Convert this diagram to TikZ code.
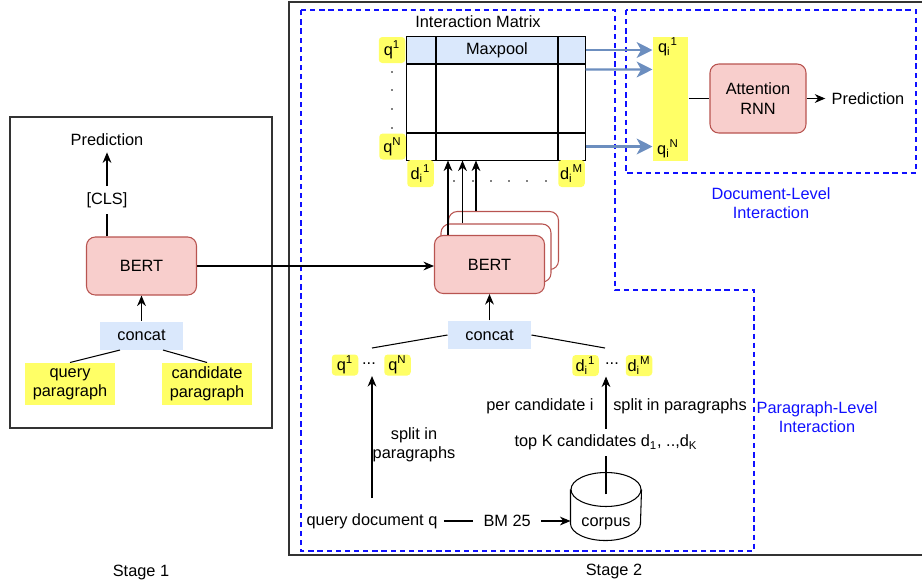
\documentclass[tikz,border=0pt]{standalone}
\usepackage{fontspec}
\setmainfont{Liberation Sans}
\usepackage{xcolor}
\usetikzlibrary{calc}
\usetikzlibrary{positioning, fit, arrows.meta}

\definecolor{bertfill}{HTML}{F8CECC}
\definecolor{bertline}{HTML}{B85450}
\definecolor{catfill}{HTML}{DAE8FC}
\definecolor{tagfill}{HTML}{FFFF66}
\definecolor{arrblue}{HTML}{6C8EBF}
\definecolor{zoneblue}{HTML}{1010FF}

\begin{document}
\begin{tikzpicture}[x=0.02cm, y=-0.02cm, semithick, font=\fontsize{9.3}{11}\selectfont,
    >={Stealth[length=6pt,width=5pt]},
    bertbox/.style = {draw=bertline, fill=bertfill, rounded corners=5pt, minimum width=2.2cm, minimum height=1.16cm},
    catbox/.style = {fill=catfill, minimum width=1.66cm, minimum height=0.56cm},
    tagbox/.style = {fill=tagfill, rounded corners=2pt, inner sep=0pt, minimum width=0.53cm, minimum height=0.42cm},
    parabox/.style = {fill=tagfill, align=center, inner sep=0pt, minimum width=1.8cm, minimum height=0.84cm},
    zone/.style = {draw=zoneblue, dash pattern=on 3pt off 2.2pt, line width=0.9pt},
    zonetxt/.style = {text=zoneblue, align=center},
    bluearrow/.style = {draw=arrblue, line width=1.2pt, -{Stealth[length=9pt,width=9pt,inset=2.5pt]}}]
    \useasboundingbox (0,0) rectangle (922,586);

    % Frames
    \draw[black!80, line width=0.7pt] (10,117) rectangle (272,428);
    \draw[black!80, line width=0.8pt] (289,2) rectangle (940,555);
    \draw[zone] (301,10) -- (615,10) -- (615,290) -- (754,290) -- (754,551) -- (301,551) -- cycle;
    \draw[zone] (626,10) rectangle (916,173);

    % Nodes - stage 1
    \node[bertbox] (bert1) at (141.5,266) {BERT};
    \node[catbox] (cat1) at (141.5,335.5) {concat};
    \node[parabox] (qpara) at (70,384) {query\\paragraph};
    \node[parabox] (cpara) at (207,384) {candidate\\paragraph};
    \node (cls) at (107,200) {[CLS]};
    \node (pred1) at (107,140) {Prediction};
    \node (stage1) at (141,572) {Stage 1};

    % Lines - stage 1
    \draw[->] (cat1) -- (bert1);
    \draw (cls |- bert1.north) -- (cls);
    \draw[->] (cls) -- (pred1);
    \draw ([xshift=-0.43cm]cat1.south) -- (qpara.north);
    \draw ([xshift=0.43cm]cat1.south) -- (cpara.north);

    % Interaction matrix
    \node[minimum width=3.56cm, minimum height=2.46cm, inner sep=0pt] (imat) at (496,98.5) {};
    \fill[catfill] (imat.north west) rectangle ($(imat.north east)+(0,27)$);
    \draw (436,37) -- (436,160) (558,37) -- (558,160) (407,64) -- (585,64) (407,133) -- (585,133);
    \draw (imat.north west) rectangle (imat.south east);
    \node (maxpool) at (497,50.5) {Maxpool};
    \node (imtitle) at (478,22) {Interaction Matrix};
    \node[tagbox, minimum height=0.52cm] (q1m) at (392,50) {q\textsuperscript{1}};
    \node[tagbox, minimum height=0.52cm] (qNm) at (392.5,146.5) {q\textsuperscript{N}};
    \node[tagbox, minimum height=0.54cm] (d1m) at (420.5,173.5) {d\textsubscript{i}\textsuperscript{1}};
    \node[tagbox, minimum height=0.54cm] (dMm) at (571.5,173.5) {d\textsubscript{i}\textsuperscript{M}};
    \foreach \y in {72,90,109,128} \fill (392,\y) circle (0.5pt);
    \foreach \x in {454,473,491,509,527,546} \fill (\x,181) circle (0.5pt);

    % Document level
    \node[fill=tagfill, minimum width=0.7cm, minimum height=2.48cm, inner sep=0pt] (qbar) at (670.5,99) {};
    \node (qi1) at (668,47) {q\textsubscript{i}\textsuperscript{1}};
    \node (qiN) at (668,149) {q\textsubscript{i}\textsuperscript{N}};
    \node[bertbox, align=center, minimum width=1.92cm, minimum height=1.38cm] (attn) at (758,98.5) {Attention\\RNN};
    \node (pred2) at (868,98.5) {Prediction};
    \node[zonetxt] (doclvl) at (771,203) {Document-Level\\Interaction};
    \node[zonetxt] (paralvl) at (817,417) {Paragraph-Level\\Interaction};

    \draw[bluearrow] (imat.east |- q1m) -- (qbar.west |- q1m);
    \draw[bluearrow] ($(imat.north east)+(0,33)$) -- ($(qbar.north west)+(0,33)$);
    \draw[bluearrow] (imat.east |- qNm) -- (qbar.west |- qNm);
    \draw (qbar.east |- attn) -- (attn);
    \draw[->] (attn) -- (pred2);

    % Nodes - stage 2
    \node[bertbox, fill=white] (bertc) at (503.5,240.5) {};
    \node[bertbox, fill=white] (bertb) at (496,253) {};
    \node[bertbox] (bert2) at (489.5,264.5) {BERT};
    \node[catbox] (cat2) at (489.5,335) {concat};
    \node[tagbox] (q1b) at (345,365) {q\textsuperscript{1}};
    \node (qdots) at (369,364) {...};
    \node[tagbox] (qNb) at (397.5,365) {q\textsuperscript{N}};
    \node[tagbox] (d1b) at (585.5,365.5) {d\textsubscript{i}\textsuperscript{1}};
    \node (ddots) at (612,364) {...};
    \node[tagbox] (dMb) at (639,365.5) {d\textsubscript{i}\textsuperscript{M}};
    \coordinate (qsplit) at (372,348);
    \coordinate (dsplit) at (605,348);
    \node (qdoc) at (372,521) {query document q};
    \node[minimum width=1.4cm, minimum height=1.34cm, inner sep=0pt] (corpus) at (606,506.5) {};
    \draw[fill=white] ($(corpus.north west)+(0,17)$) -- ($(corpus.south west)+(0,-17)$)
        arc[start angle=180, end angle=360, x radius=0.7cm, y radius=0.34cm] -- ($(corpus.north east)+(0,17)$);
    \draw ($(corpus.north)+(0,17)$) ellipse [x radius=0.7cm, y radius=0.34cm];
    \node (corpustxt) at (606,524) {corpus};
    \node (percand) at (540,406) {per candidate i};
    \node (splitd) at (680,406) {split in paragraphs};
    \node[align=center] (splitq) at (414,445) {split in\\paragraphs};
    \node (stage2) at (614,571) {Stage 2};

    % Lines - stage 2
    \draw[->] (bert1.east) -- (bert1.east -| bert2.west);
    \foreach \b/\dx in {bert2/14, bertb/22, bertc/28} {
        \coordinate (up) at ($(\b.north west)+(\dx,0)$);
        \draw[->] (up) -- (up |- imat.south);
    }
    \draw[->] (cat2) -- (bert2);
    \draw (cat2.west) -- (qsplit);
    \draw (cat2.east) -- (dsplit);
    \draw[->, shorten <=5pt] (qdoc) -- (qdoc |- q1b.south);
    \draw[->] (qdoc) -- node[fill=white, inner sep=6pt] {BM 25} (corpus.west |- qdoc);
    \coordinate (ctop) at ($(corpus.north)+(0,22)$);
    \draw[->] (ctop) -- node[fill=white, pos=0.44] {top K candidates d\textsubscript{1}, ..,d\textsubscript{K}} (ctop |- d1b.south);
\end{tikzpicture}
\end{document}
